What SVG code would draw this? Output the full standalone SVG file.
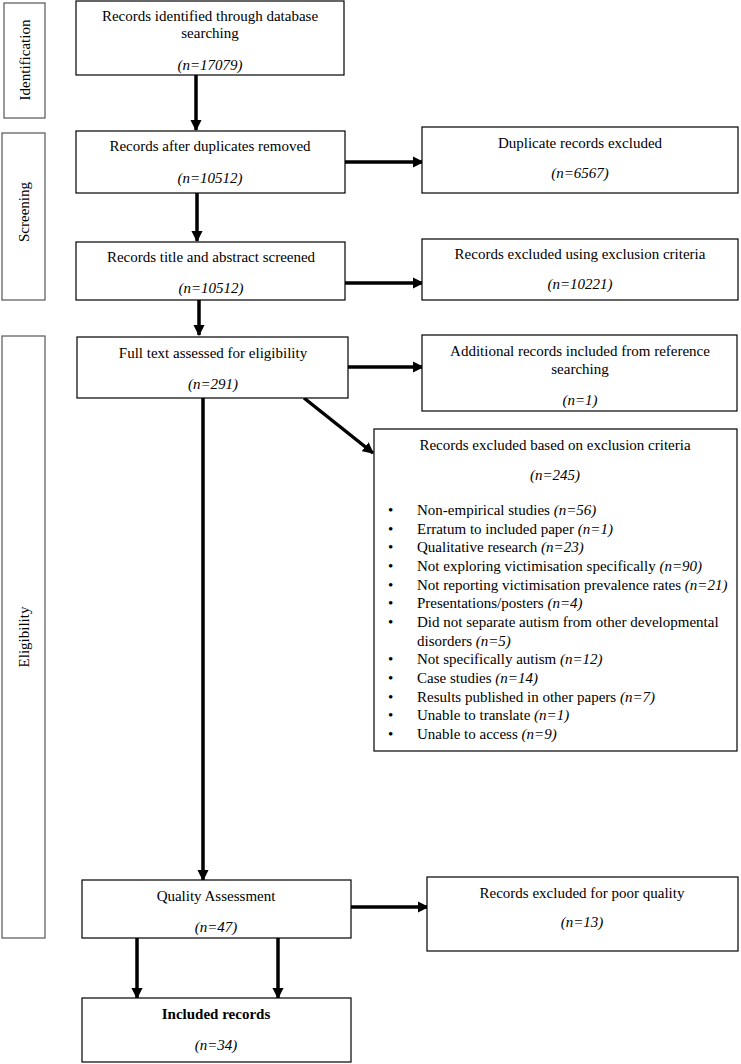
<svg xmlns="http://www.w3.org/2000/svg" width="741" height="1064" viewBox="0 0 741 1064">
<defs>
<style>
.box{fill:#fff;stroke:#000;stroke-width:1.2}
.side{fill:#fff;stroke:#555;stroke-width:1.2}
text{font-family:"Liberation Serif","Times New Roman",serif;font-size:15px;fill:#000}
.c{text-anchor:middle}
.i{font-style:italic}
.b{font-weight:bold}
.con{stroke:#000;stroke-width:3.5;fill:none}
</style>
<marker id="ah" viewBox="0 0 10 10" refX="9" refY="5" markerWidth="3.2" markerHeight="3.2" orient="auto" markerUnits="strokeWidth">
<path d="M0,0 L10,5 L0,10 Z" fill="#000"/>
</marker>
</defs>
<rect width="741" height="1064" fill="#fff"/>

<g id="side-identification">
<rect class="side" x="4" y="3" width="41" height="115"/>
<text class="c" transform="translate(30,60) rotate(-90)">Identification</text>
</g>
<g id="side-screening">
<rect class="side" x="2" y="133" width="43" height="167"/>
<text class="c" transform="translate(29,212) rotate(-90)">Screening</text>
</g>
<g id="side-eligibility">
<rect class="side" x="2" y="336" width="43" height="602"/>
<text class="c" transform="translate(29,637) rotate(-90)">Eligibility</text>
</g>

<g id="connectors">
<line class="con" x1="196" y1="75" x2="196" y2="130" marker-end="url(#ah)"/>
<line class="con" x1="197" y1="193" x2="197" y2="241" marker-end="url(#ah)"/>
<line class="con" x1="199" y1="300" x2="199" y2="335" marker-end="url(#ah)"/>
<line class="con" x1="345" y1="162" x2="423" y2="162" marker-end="url(#ah)"/>
<line class="con" x1="345" y1="283" x2="423" y2="283" marker-end="url(#ah)"/>
<line class="con" x1="348" y1="367" x2="423" y2="367" marker-end="url(#ah)"/>
<line class="con" x1="304" y1="398" x2="373" y2="453" marker-end="url(#ah)"/>
<line class="con" x1="203" y1="398" x2="203" y2="880" marker-end="url(#ah)"/>
<line class="con" x1="351" y1="907" x2="428" y2="907" marker-end="url(#ah)"/>
<line class="con" x1="137" y1="938" x2="137" y2="998" marker-end="url(#ah)"/>
<line class="con" x1="278" y1="938" x2="278" y2="998" marker-end="url(#ah)"/>
</g>

<g id="n-identified">
<rect class="box" x="76" y="1" width="268" height="74"/>
<text class="c" x="210" y="21">Records identified through database</text>
<text class="c" x="210" y="38">searching</text>
<text class="c i" x="210" y="70">(n=17079)</text>
</g>
<g id="n-after-duplicates">
<rect class="box" x="76" y="131" width="269" height="62"/>
<text class="c" x="210" y="151">Records after duplicates removed</text>
<text class="c i" x="210" y="183">(n=10512)</text>
</g>
<g id="n-duplicates-excluded">
<rect class="box" x="422" y="127" width="316" height="66"/>
<text class="c" x="580" y="148">Duplicate records excluded</text>
<text class="c i" x="580" y="178">(n=6567)</text>
</g>
<g id="n-screened">
<rect class="box" x="76" y="242" width="269" height="58"/>
<text class="c" x="211" y="262">Records title and abstract screened</text>
<text class="c i" x="211" y="293">(n=10512)</text>
</g>
<g id="n-excluded-criteria">
<rect class="box" x="422" y="239" width="316" height="61"/>
<text class="c" x="580" y="259">Records excluded using exclusion criteria</text>
<text class="c i" x="580" y="289">(n=10221)</text>
</g>
<g id="n-fulltext">
<rect class="box" x="77" y="337" width="271" height="61"/>
<text class="c" x="213" y="358">Full text assessed for eligibility</text>
<text class="c i" x="213" y="389">(n=291)</text>
</g>
<g id="n-additional">
<rect class="box" x="422" y="335" width="315" height="76"/>
<text class="c" x="580" y="356">Additional records included from reference</text>
<text class="c" x="580" y="374">searching</text>
<text class="c i" x="580" y="405">(n=1)</text>
</g>
<g id="n-excluded-list">
<rect class="box" x="374" y="429" width="363" height="322"/>
<text class="c" x="555" y="450">Records excluded based on exclusion criteria</text>
<text class="c i" x="555" y="480">(n=245)</text>
<text x="388" y="515">•</text><text x="417" y="515">Non-empirical studies <tspan class="i">(n=56)</tspan></text>
<text x="388" y="534">•</text><text x="417" y="534">Erratum to included paper <tspan class="i">(n=1)</tspan></text>
<text x="388" y="552">•</text><text x="417" y="552">Qualitative research <tspan class="i">(n=23)</tspan></text>
<text x="388" y="571">•</text><text x="417" y="571">Not exploring victimisation specifically <tspan class="i">(n=90)</tspan></text>
<text x="388" y="590">•</text><text x="417" y="590">Not reporting victimisation prevalence rates <tspan class="i">(n=21)</tspan></text>
<text x="388" y="608">•</text><text x="417" y="608">Presentations/posters <tspan class="i">(n=4)</tspan></text>
<text x="388" y="627">•</text><text x="417" y="627">Did not separate autism from other developmental</text>
<text x="417" y="646">disorders <tspan class="i">(n=5)</tspan></text>
<text x="388" y="664">•</text><text x="417" y="664">Not specifically autism <tspan class="i">(n=12)</tspan></text>
<text x="388" y="683">•</text><text x="417" y="683">Case studies <tspan class="i">(n=14)</tspan></text>
<text x="388" y="702">•</text><text x="417" y="702">Results published in other papers <tspan class="i">(n=7)</tspan></text>
<text x="388" y="720">•</text><text x="417" y="720">Unable to translate <tspan class="i">(n=1)</tspan></text>
<text x="388" y="739">•</text><text x="417" y="739">Unable to access <tspan class="i">(n=9)</tspan></text>
</g>
<g id="n-quality">
<rect class="box" x="82" y="880" width="269" height="58"/>
<text class="c" x="216" y="901">Quality Assessment</text>
<text class="c i" x="216" y="932">(n=47)</text>
</g>
<g id="n-poor-quality">
<rect class="box" x="427" y="877" width="311" height="74"/>
<text class="c" x="582" y="898">Records excluded for poor quality</text>
<text class="c i" x="582" y="927">(n=13)</text>
</g>
<g id="n-included">
<rect class="box" x="82" y="998" width="269" height="64"/>
<text class="c b" x="216" y="1019">Included records</text>
<text class="c i" x="216" y="1050">(n=34)</text>
</g>
</svg>
